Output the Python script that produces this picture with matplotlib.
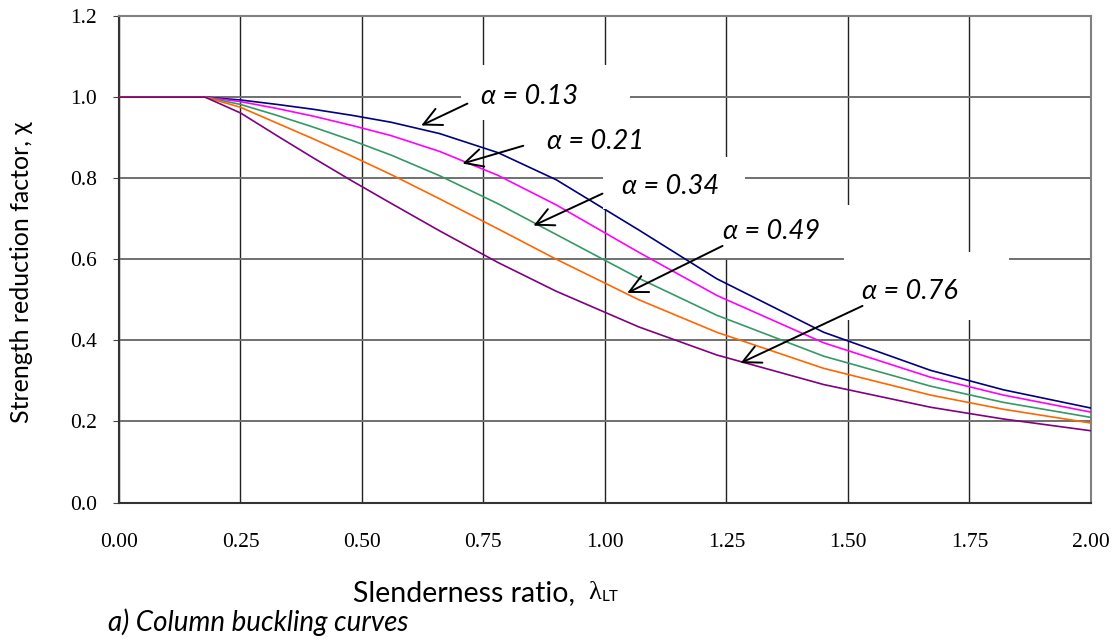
import matplotlib
matplotlib.use("Agg")
import matplotlib.pyplot as plt
from matplotlib.patches import Rectangle

# slenderness ratio sample points
lam = [0.0, 0.177, 0.25, 0.325, 0.40, 0.48, 0.56, 0.66, 0.78, 0.90, 1.07, 1.23, 1.45, 1.67, 1.82, 2.0]

chi_013 = [1.0, 1.0, 0.993, 0.982, 0.970, 0.955, 0.938, 0.910, 0.863, 0.796, 0.672, 0.552, 0.420, 0.326, 0.278, 0.233]
chi_021 = [1.0, 1.0, 0.989, 0.972, 0.953, 0.930, 0.905, 0.866, 0.807, 0.734, 0.617, 0.511, 0.394, 0.309, 0.265, 0.223]
chi_034 = [1.0, 1.0, 0.982, 0.955, 0.926, 0.893, 0.857, 0.806, 0.737, 0.661, 0.553, 0.462, 0.361, 0.287, 0.247, 0.210]
chi_049 = [1.0, 1.0, 0.975, 0.936, 0.897, 0.854, 0.809, 0.749, 0.675, 0.600, 0.500, 0.420, 0.331, 0.265, 0.230, 0.196]
chi_076 = [1.0, 1.0, 0.961, 0.905, 0.850, 0.793, 0.738, 0.670, 0.592, 0.521, 0.433, 0.364, 0.291, 0.235, 0.206, 0.177]

labels = ["α = 0.13", "α = 0.21", "α = 0.34", "α = 0.49", "α = 0.76"]
colors = ["#000080", "#ff00ff", "#339966", "#ff6600", "#800080"]

x_ticks = [0.0, 0.25, 0.5, 0.75, 1.0, 1.25, 1.5, 1.75, 2.0]
y_ticks = [0.0, 0.2, 0.4, 0.6, 0.8, 1.0, 1.2]

fig = plt.figure(figsize=(11.19, 6.39), dpi=100)
ax = fig.add_axes([0.1063, 0.2136, 0.8686, 0.7613])

for y, c in zip([chi_013, chi_021, chi_034, chi_049, chi_076], colors):
    ax.plot(lam, y, color=c, lw=1.2, zorder=3)

ax.set_xlim(0, 2.0)
ax.set_ylim(0, 1.2)
ax.set_xticks(x_ticks)
ax.set_yticks(y_ticks)
ax.set_xticklabels([f"{v:.2f}" for v in x_ticks], family="Liberation Serif", fontsize=15.5)
ax.set_yticklabels([f"{v:.1f}" for v in y_ticks], family="Liberation Serif", fontsize=15.5)
ax.tick_params(axis="x", length=0, pad=22)
ax.tick_params(axis="y", length=4, pad=12, color="#444444")

ax.xaxis.grid(True, color="#222222", lw=1.0, zorder=1)
ax.yaxis.grid(True, color="#707070", lw=1.4, zorder=1)
ax.set_axisbelow(True)
for s in ["top", "right"]:
    ax.spines[s].set_color("#808080")
    ax.spines[s].set_linewidth(1.5)
for s in ["left", "bottom"]:
    ax.spines[s].set_color("#333333")
    ax.spines[s].set_linewidth(1.5)

# white label boxes that break the grid
boxes = [(0.703, 0.944, 0.349, 0.136),
         (0.857, 0.838, 0.237, 0.111),
         (0.995, 0.725, 0.294, 0.128),
         (1.196, 0.604, 0.314, 0.131),
         (1.491, 0.451, 0.341, 0.167)]
for bx, by, bw, bh in boxes:
    ax.add_patch(Rectangle((bx, by), bw, bh, facecolor="white", edgecolor="none", zorder=4))

# label text, arrow tail, arrow head
text_pos = [(0.844, 1.001), (0.980, 0.890), (1.135, 0.779), (1.343, 0.668), (1.628, 0.520)]
tails = [(0.717, 0.984), (0.832, 0.880), (0.995, 0.762), (1.242, 0.633), (1.530, 0.485)]
heads = [(0.622, 0.930), (0.707, 0.836), (0.853, 0.683), (1.046, 0.517), (1.279, 0.344)]

for lab, tp, tl, hd in zip(labels, text_pos, tails, heads):
    ax.text(tp[0], tp[1], lab, family="Lato", style="italic", fontsize=19.5,
            ha="center", va="center", zorder=6)
    ax.annotate("", xy=hd, xytext=tl,
                arrowprops=dict(arrowstyle="->", color="black", lw=1.4,
                                mutation_scale=32, shrinkA=0, shrinkB=0),
                zorder=6)

fig.text(22 / 1119, 1 - 272 / 639, "Strength reduction factor, χ", family="Lato",
         fontsize=18, rotation=90, ha="center", va="center")
fig.text(353 / 1119, 1 - 593 / 639, "Slenderness ratio,", family="Lato",
         fontsize=20.5, ha="left", va="center")
fig.text(588 / 1119, 1 - 593 / 639, "λ", family="Liberation Serif",
         fontsize=19, ha="left", va="center")
fig.text(602 / 1119, 1 - 597 / 639, "LT", family="Lato",
         fontsize=11, ha="left", va="center")
fig.text(108 / 1119, 1 - 622 / 639, "a) Column buckling curves", family="Lato",
         style="italic", fontsize=20, ha="left", va="center")

fig.savefig("out.png", dpi=100)
